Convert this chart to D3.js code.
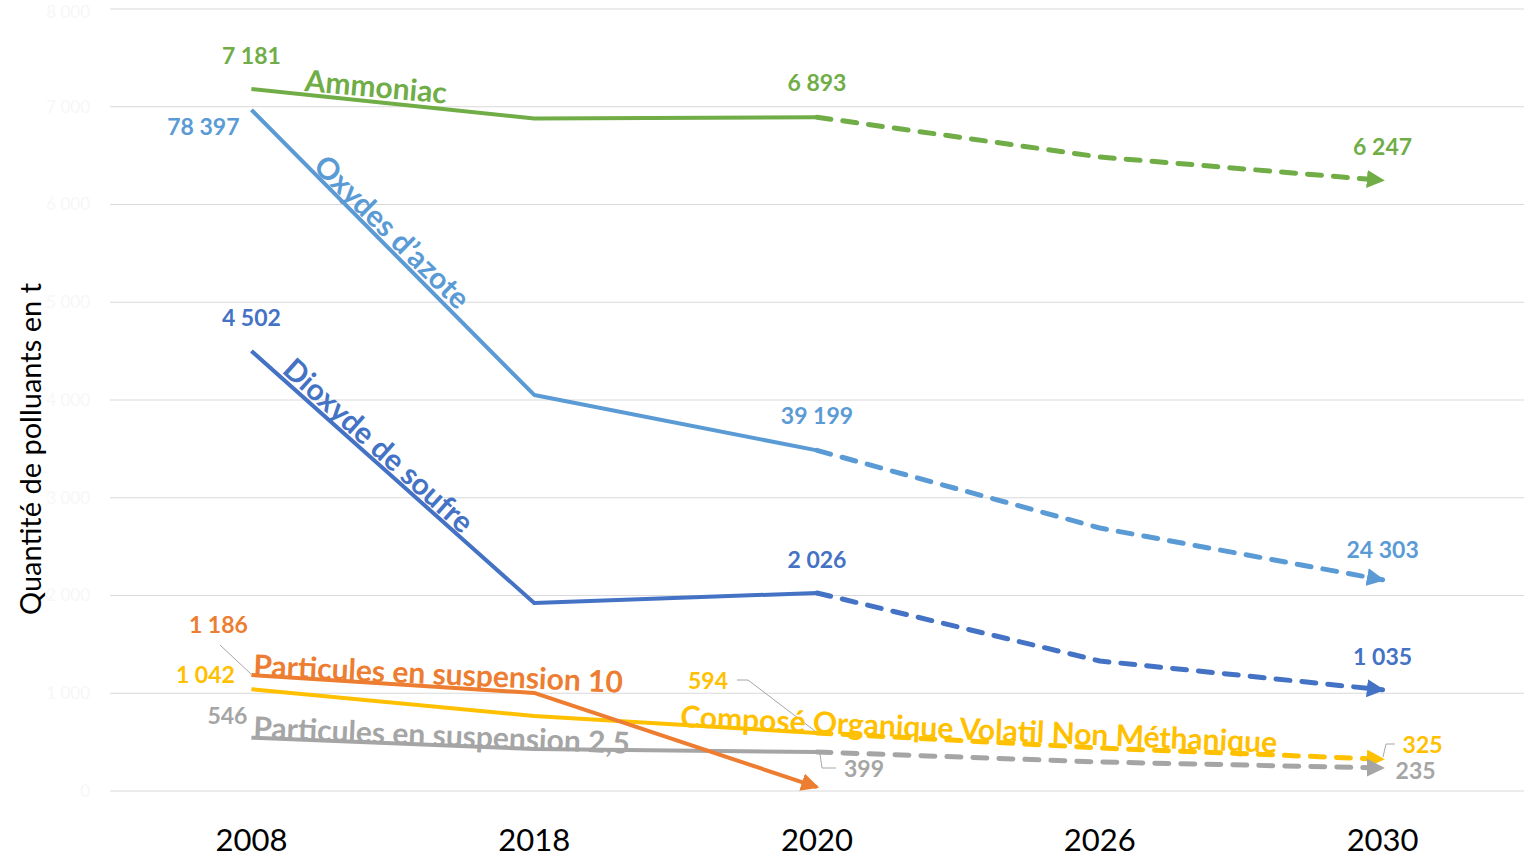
<!DOCTYPE html>
<html>
<head>
<meta charset="utf-8">
<script src="https://cdn.jsdelivr.net/npm/d3@7"></script>
<style>
  body { margin: 0; background: #fff; }
  svg { font-family: Lato, "Open Sans", sans-serif; }
</style>
</head>
<body>
<div id="chart"></div>
<script>
// Years (categories) and values
const years = ["2008", "2018", "2020", "2026", "2030"];
const yTicks = [0, 1000, 2000, 3000, 4000, 5000, 6000, 7000, 8000];

const ammoniac = [7181, 6880, 6893, 6486, 6247];
const oxydesAzote = [78397, 45580, 39199, 30270, 24303]; // plotted on a hidden 0-90 000 axis
const dioxydeSoufre = [4502, 1923, 2026, 1330, 1035];
const particules10 = [1186, 1003, 40];
const covnm = [1042, 767, 594, 440, 325];
const particules25 = [546, 430, 399, 297, 235];

const W = 1529, H = 857;
const plot = { left: 110, right: 1524, top: 9, bottom: 791 };

const x = d3.scalePoint()
  .domain(years)
  .range([plot.left, plot.right])
  .padding(0.5);

const y = d3.scaleLinear().domain([0, 8000]).range([plot.bottom, plot.top]);
const y2 = d3.scaleLinear().domain([0, 90000]).range([plot.bottom, plot.top]);

const svg = d3.select("#chart").append("svg")
  .attr("width", W).attr("height", H);

// grid lines
svg.append("g")
  .selectAll("line")
  .data(yTicks)
  .join("line")
    .attr("x1", plot.left).attr("x2", plot.right)
    .attr("y1", d => y(d)).attr("y2", d => y(d))
    .attr("stroke", "#d9d9d9").attr("stroke-width", 1);

// faint y tick labels (nearly white in the original)
svg.append("g")
  .selectAll("text")
  .data(yTicks)
  .join("text")
    .attr("x", 90).attr("y", d => Math.max(y(d), 12))
    .attr("dy", "0.35em")
    .attr("text-anchor", "end")
    .attr("font-size", 17)
    .attr("fill", "#f7f7f7")
    .text(d => d3.format(",")(d).replace(",", " "));

// x axis labels
svg.append("g")
  .selectAll("text")
  .data(years)
  .join("text")
    .attr("x", d => x(d)).attr("y", 840)
    .attr("dy", "0.35em")
    .attr("text-anchor", "middle")
    .attr("font-size", 31)
    .attr("fill", "#000")
    .text(d => d);

// y axis title
svg.append("text")
  .attr("transform", "translate(41,449) rotate(-90)")
  .attr("text-anchor", "middle")
  .attr("font-size", 29)
  .attr("fill", "#000")
  .text("Quantité de polluants en t");

const series = [
  { name: "Ammoniac", values: ammoniac, color: "#70ad47", scale: y },
  { name: "Oxydes d’azote", values: oxydesAzote, color: "#5b9bd5", scale: y2 },
  { name: "Dioxyde de soufre", values: dioxydeSoufre, color: "#4472c4", scale: y },
  { name: "Composé Organique Volatil Non Méthanique", values: covnm, color: "#ffc000", scale: y },
  { name: "Particules en suspension 2,5", values: particules25, color: "#a5a5a5", scale: y },
  { name: "Particules en suspension 10", values: particules10, color: "#ed7d31", scale: y }
];

// arrow markers
const defs = svg.append("defs");
series.forEach((s, i) => {
  defs.append("marker")
    .attr("id", "arrow" + i)
    .attr("markerUnits", "userSpaceOnUse")
    .attr("viewBox", "0 -8 16 16")
    .attr("refX", 14).attr("refY", 0)
    .attr("markerWidth", 18).attr("markerHeight", 18)
    .attr("orient", "auto")
    .append("path")
      .attr("d", "M0,-8L16,0L0,8Z")
      .attr("fill", s.color);
});

const lineFor = s => d3.line()
  .x(d => x(d.year))
  .y(d => s.scale(d.value));

// series lines: solid until 2020, dashed projection afterwards
const lines = svg.append("g");
series.forEach((s, i) => {
  const pts = s.values.map((v, j) => ({ year: years[j], value: v }));
  const solid = pts.slice(0, 3);
  const dashed = pts.slice(2);
  const line = lineFor(s);
  const p = lines.append("path")
    .datum(solid)
    .attr("fill", "none")
    .attr("stroke", s.color)
    .attr("stroke-width", 4)
    .attr("stroke-linejoin", "round")
    .attr("d", line);
  if (dashed.length > 1) {
    lines.append("path")
      .datum(dashed)
      .attr("fill", "none")
      .attr("stroke", s.color)
      .attr("stroke-width", 5)
      .attr("stroke-dasharray", "14 12")
      .attr("stroke-linecap", "round")
      .attr("stroke-linejoin", "round")
      .attr("d", line)
      .attr("marker-end", `url(#arrow${i})`);
  } else {
    p.attr("marker-end", `url(#arrow${i})`);
  }
});

// value labels: [series index, point index, dx, dy]
const valueLabels = [
  [0, 0, 0, -33], [0, 2, 0, -34], [0, 4, 0, -33],
  [1, 0, -48, 17], [1, 2, 0, -34], [1, 4, 0, -30],
  [2, 0, 0, -33], [2, 2, 0, -33], [2, 4, 0, -33],
  [5, 0, -33, -50],
  [3, 0, -46, -14], [3, 2, -109, -52], [3, 4, 40, -14],
  [4, 0, -24, -22], [4, 2, 47, 17], [4, 4, 33, 3]
];
const fmt = v => d3.format(",")(v).replace(/,/g, " ");
svg.append("g")
  .selectAll("text")
  .data(valueLabels)
  .join("text")
    .attr("x", d => x(years[d[1]]) + d[2])
    .attr("y", d => series[d[0]].scale(series[d[0]].values[d[1]]) + d[3])
    .attr("dy", "0.35em")
    .attr("text-anchor", "middle")
    .attr("font-size", 23)
    .attr("font-weight", "bold")
    .attr("fill", d => series[d[0]].color)
    .text(d => fmt(series[d[0]].values[d[1]]));

// leader lines for displaced labels
const leaders = [
  [[220, 645], [251, 674]],
  [[737, 680], [748, 680], [815, 731]],
  [[820, 754], [822, 768], [836, 768]],
  [[1383, 757], [1386, 744], [1395, 744]]
];
svg.append("g")
  .selectAll("path")
  .data(leaders)
  .join("path")
    .attr("d", d => d3.line()(d))
    .attr("fill", "none")
    .attr("stroke", "#a6a6a6")
    .attr("stroke-width", 1);

// series name labels along the lines
const nameLabels = [
  { s: 0, x: 304, y: 91, angle: 5 },
  { s: 1, x: 312, y: 168, angle: 44.5 },
  { s: 2, x: 281, y: 372, angle: 42 },
  { s: 5, x: 253, y: 676, angle: 2.6 },
  { s: 4, x: 253, y: 738, angle: 2.4 },
  { s: 3, x: 680, y: 727, angle: 2.5 }
];
svg.append("g")
  .selectAll("text")
  .data(nameLabels)
  .join("text")
    .attr("transform", d => `translate(${d.x},${d.y}) rotate(${d.angle})`)
    .attr("font-size", 30)
    .attr("font-weight", "bold")
    .attr("fill", d => series[d.s].color)
    .text(d => series[d.s].name);
</script>
</body>
</html>
